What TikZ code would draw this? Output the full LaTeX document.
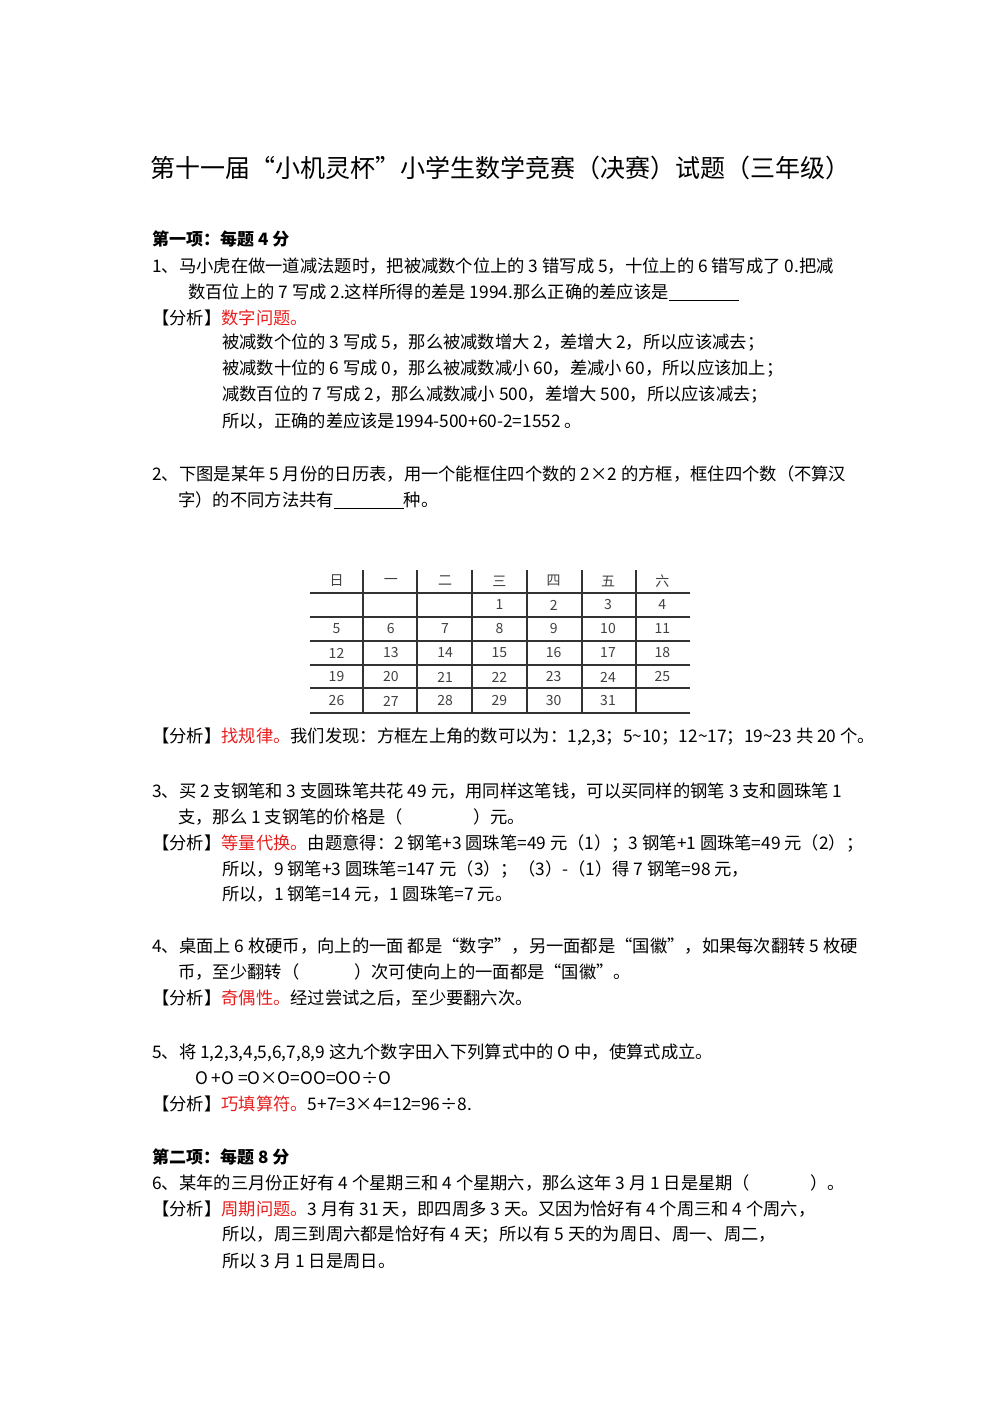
\documentclass[tikz,border=0pt]{standalone}
\usepackage{fontspec}
\setmainfont{Noto Sans CJK SC}
\begin{document}
\begin{tikzpicture}[x=1pt,y=-1pt,
  t/.style={anchor=west,inner sep=0pt,font=\fontsize{17.3}{19}\selectfont},
  cell/.style={inner sep=0pt,font=\fontsize{14}{16}\selectfont,text=black!75}]
\useasboundingbox (0,0) rectangle (1000,1415);
\definecolor{rd}{RGB}{230,30,30}
\newcommand{\fx}{\textcolor{rd}}
\node[anchor=center,inner sep=0pt,font=\fontsize{25}{28}\selectfont] (title) at (500,168) {第十一届“小机灵杯”小学生数学竞赛（决赛）试题（三年级）};
\node[t,font=\fontsize{17}{19}\selectfont\bfseries] (s1) at (152,239) {第一项：每题 4 分};
\node[t] (q1a) at (152,266) {1、马小虎在做一道减法题时，把被减数个位上的 3 错写成 5，十位上的 6 错写成了 0.把减};
\node[t] (q1b) at (188,292) {数百位上的 7 写成 2.这样所得的差是 1994.那么正确的差应该是\underline{\hspace{70pt}}};
\node[t] (a1) at (152,318) {【分析】\fx{数字问题。}};
\node[t] (a1b) at (222,343) {被减数个位的 3 写成 5，那么被减数增大 2，差增大 2，所以应该减去；};
\node[t] (a1c) at (222,369) {被减数十位的 6 写成 0，那么被减数减小 60，差减小 60，所以应该加上；};
\node[t] (a1d) at (222,395) {减数百位的 7 写成 2，那么减数减小 500，差增大 500，所以应该减去；};
\node[t] (a1e) at (222,421) {所以，正确的差应该是1994-500+60-2=1552 。};
\node[t] (q2a) at (152,474) {2、下图是某年 5 月份的日历表，用一个能框住四个数的 2×2 的方框，框住四个数（不算汉};
\node[t] (q2b) at (178,500) {字）的不同方法共有\underline{\hspace{70pt}}种。};
% table
\foreach \y in {593,617,641,665,688,713} \draw[line width=1.2pt,black!80] (310,\y) -- (690,\y);
\foreach \x in {363,417,472,527,582,636} \draw[line width=1.2pt,black!80] (\x,570) -- (\x,713);
\foreach \h [count=\i from 0] in {日,一,二,三,四,五,六}
  \node[cell] (h\i) at ({336.5+54.3*\i},581) {\h};
\foreach \r/\row in {0/{,,,1,2,3,4},1/{5,6,7,8,9,10,11},2/{12,13,14,15,16,17,18},3/{19,20,21,22,23,24,25},4/{26,27,28,29,30,31,}}{
  \foreach \v [count=\c from 0] in \row
    \node[cell] (c\r\c) at ({336.5+54.3*\c},{605+24*\r}) {\v};
}
\node[t] (a2) at (152,737) {【分析】\fx{找规律。}我们发现：方框左上角的数可以为：1,2,3；5\textasciitilde10；12\textasciitilde17；19\textasciitilde23 共 20 个。};
\node[t] (q3a) at (152,791) {3、买 2 支钢笔和 3 支圆珠笔共花 49 元，用同样这笔钱，可以买同样的钢笔 3 支和圆珠笔 1};
\node[t] (q3b) at (178,817) {支，那么 1 支钢笔的价格是（\hspace{70pt}）元。};
\node[t] (a3) at (152,843) {【分析】\fx{等量代换。}由题意得：2 钢笔+3 圆珠笔=49 元（1）；3 钢笔+1 圆珠笔=49 元（2）；};
\node[t] (a3b) at (222,869) {所以，9 钢笔+3 圆珠笔=147 元（3）；（3）-（1）得 7 钢笔=98 元，};
\node[t] (a3c) at (222,894) {所以，1 钢笔=14 元，1 圆珠笔=7 元。};
\node[t] (q4a) at (152,946) {4、桌面上 6 枚硬币，向上的一面 都是“数字”，另一面都是“国徽”，如果每次翻转 5 枚硬};
\node[t] (q4b) at (178,972) {币，至少翻转（\hspace{55pt}）次可使向上的一面都是“国徽”。};
\node[t] (a4) at (152,998) {【分析】\fx{奇偶性。}经过尝试之后，至少要翻六次。};
\node[t] (q5a) at (152,1053) {5、将 1,2,3,4,5,6,7,8,9 这九个数字田入下列算式中的 O 中，使算式成立。};
\node[t] (q5b) at (195,1078) {O +O =O×O=OO=OO÷O};
\node[t] (a5) at (152,1104) {【分析】\fx{巧填算符。}5+7=3×4=12=96÷8.};
\node[t,font=\fontsize{17}{19}\selectfont\bfseries] (s2) at (152,1157) {第二项：每题 8 分};
\node[t] (q6) at (152,1183) {6、某年的三月份正好有 4 个星期三和 4 个星期六，那么这年 3 月 1 日是星期（\hspace{60pt}）。};
\node[t] (a6) at (152,1209) {【分析】\fx{周期问题。}3 月有 31 天，即四周多 3 天。又因为恰好有 4 个周三和 4 个周六，};
\node[t] (a6b) at (222,1235) {所以，周三到周六都是恰好有 4 天；所以有 5 天的为周日、周一、周二，};
\node[t] (a6c) at (222,1261) {所以 3 月 1 日是周日。};
\end{tikzpicture}
\end{document}
